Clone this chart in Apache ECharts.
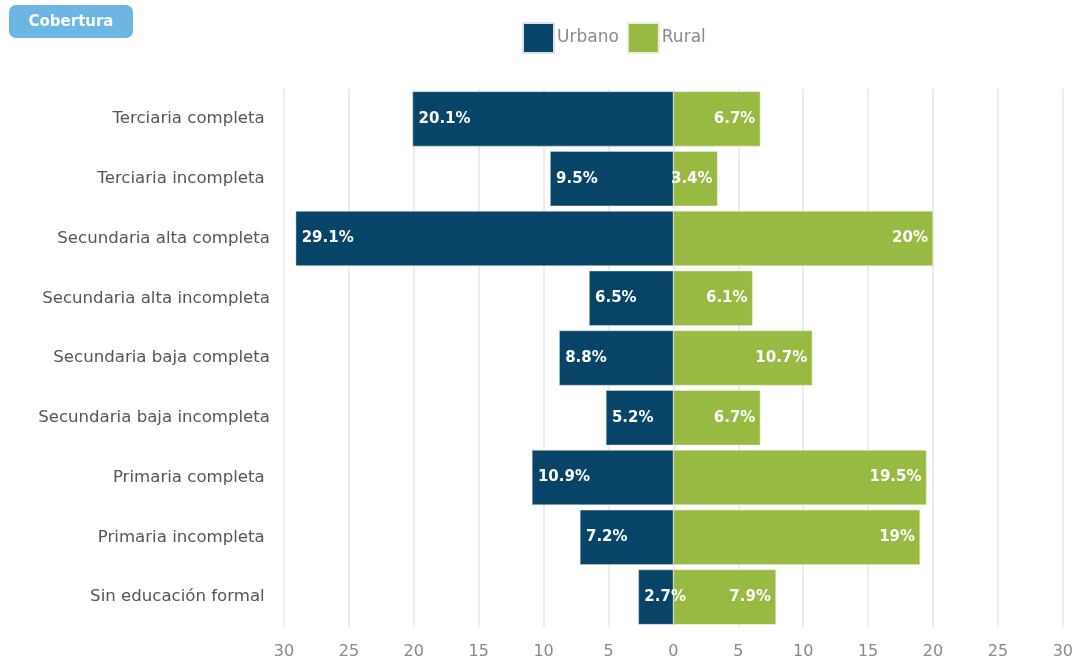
<!DOCTYPE html>
<html>
<head>
<meta charset="utf-8">
<script src="https://cdn.jsdelivr.net/npm/echarts@6/dist/echarts.min.js"></script>
<style>html,body{margin:0;padding:0;background:#fff}#c{width:1076px;height:666px}</style>
</head>
<body>
<div id="c"></div>
<script>
const categories = ["Terciaria completa ", "Terciaria incompleta ", "Secundaria alta completa", "Secundaria alta incompleta", "Secundaria baja completa", "Secundaria baja incompleta", "Primaria completa ", "Primaria incompleta ", "Sin educación formal "];
const urbano = [20.1, 9.5, 29.1, 6.5, 8.8, 5.2, 10.9, 7.2, 2.7];
const rural = [6.7, 3.4, 20, 6.1, 10.7, 6.7, 19.5, 19, 7.9];
const seriesNames = ["Urbano", "Rural"];
const buttonText = "Cobertura";

const chart = echarts.init(document.getElementById('c'));
const FONT = '"DejaVu Sans", sans-serif';
chart.setOption({
  animation: false,
  textStyle: { fontFamily: FONT },
  graphic: [{
    type: 'group', left: 9, top: 5,
    children: [
      { type: 'rect', shape: { x: 0, y: 0, width: 124, height: 33, r: 7 }, style: { fill: '#6cb6e4' } },
      { type: 'text', style: { x: 62, y: 17, text: buttonText, fill: '#fff', font: 'bold 15px ' + FONT, align: 'center', verticalAlign: 'middle' } }
    ]
  }],
  legend: {
    top: 17, left: 517,
    itemWidth: 31, itemHeight: 30, itemGap: 8,
    icon: 'rect',
    textStyle: { color: '#8a8a8a', fontSize: 17, padding: [0, 0, 0, -2] },
    data: seriesNames
  },
  grid: { left: 284, right: 13, top: 89, bottom: 39 },
  xAxis: {
    type: 'value', min: -30, max: 30, interval: 5,
    axisLine: { show: false }, axisTick: { show: false },
    splitLine: { lineStyle: { color: '#e6e6e6', width: 1.5 } },
    axisLabel: { color: '#8a8a8a', fontSize: 16, margin: 17, formatter: v => Math.abs(v) }
  },
  yAxis: {
    type: 'category', data: categories, inverse: true,
    axisLine: { show: false }, axisTick: { show: false },
    axisLabel: { color: '#555', fontSize: 16.6, margin: 14 }
  },
  series: [
    {
      name: seriesNames[0], type: 'bar', stack: 'a', barWidth: '92%',
      data: urbano.map(v => -v),
      itemStyle: { color: '#074468', borderColor: '#d8e2ea', borderWidth: 0.5 },
      label: { show: true, position: 'insideLeft', distance: 6, color: '#fff', fontWeight: 'bold', fontSize: 15, formatter: p => Math.abs(p.value) + '%' }
    },
    {
      name: seriesNames[1], type: 'bar', stack: 'a', barWidth: '92%',
      data: rural,
      itemStyle: { color: '#98b942', borderColor: '#e8f0d8', borderWidth: 0.5 },
      label: { show: true, position: 'insideRight', distance: 5, color: '#fff', fontWeight: 'bold', fontSize: 15, formatter: p => p.value + '%' }
    }
  ]
});
</script>
</body>
</html>
